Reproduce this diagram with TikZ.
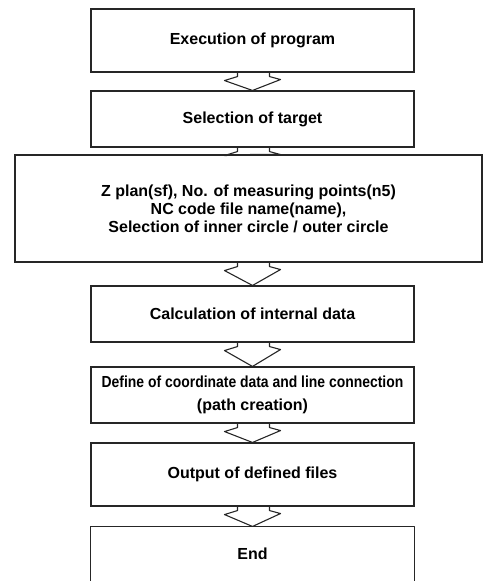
\documentclass[tikz,border=0pt]{standalone}
\usepackage{fontspec}
\setmainfont{Liberation Sans}
\usepackage{graphicx}
\usetikzlibrary{calc}
\begin{document}
\begin{tikzpicture}[x=1pt,y=-1pt,
  stepbox/.style={draw=black!85, line width=1.1pt, rectangle, align=center,
    inner sep=0pt, minimum width=323pt, font=\bfseries\fontsize{16}{18}\selectfont},
  linkline/.style={draw=black!85, line width=1.1pt, line join=round, line cap=round}]
\useasboundingbox (0,0) rectangle (483,581);
\node[stepbox, minimum height=63pt] (n1) at (252.5,40.5) {Execution of program};
\node[stepbox, minimum height=56pt] (n2) at (252.5,119) {Selection of target};
\node[stepbox, minimum height=107pt, minimum width=467pt] (n3) at (248.5,208.5)
  {Z plan(sf), No. of measuring points(n5)\\ NC code file name(name),\\ Selection of inner circle / outer circle};
\node[stepbox, minimum height=56pt] (n4) at (252.5,314) {Calculation of internal data};
\node[stepbox, minimum height=56pt, font=\bfseries\fontsize{16}{23}\selectfont] (n5) at (252.5,395)
  {\scalebox{0.87}[1]{Define of coordinate data and line connection}\\ (path creation)};
\node[stepbox, minimum height=63pt] (n6) at (252.5,474.5) {Output of defined files};
\node[stepbox, draw=none, minimum height=54pt] (n7) at (252.5,554) {End};
\draw[linkline] (n7.south west) -- (n7.north west) -- (n7.north east) -- (n7.south east);
\newcommand\linkarrow[3]{%
  \draw[linkline] ($(#3.center |- #1.south)+(-15,0)$) -- ++(0,4) -- ++(-13,4)
    -- ($(#3.center |- #2.north)$) -- ($(#3.center |- #1.south)+(28,7)$)
    -- ++(-11,-3) -- ++(0,-4);}
\linkarrow{n1}{n2}{n1}
\linkarrow{n2}{n3}{n2}
\linkarrow{n3}{n4}{n4}
\linkarrow{n4}{n5}{n4}
\linkarrow{n5}{n6}{n5}
\linkarrow{n6}{n7}{n6}
\end{tikzpicture}
\end{document}
